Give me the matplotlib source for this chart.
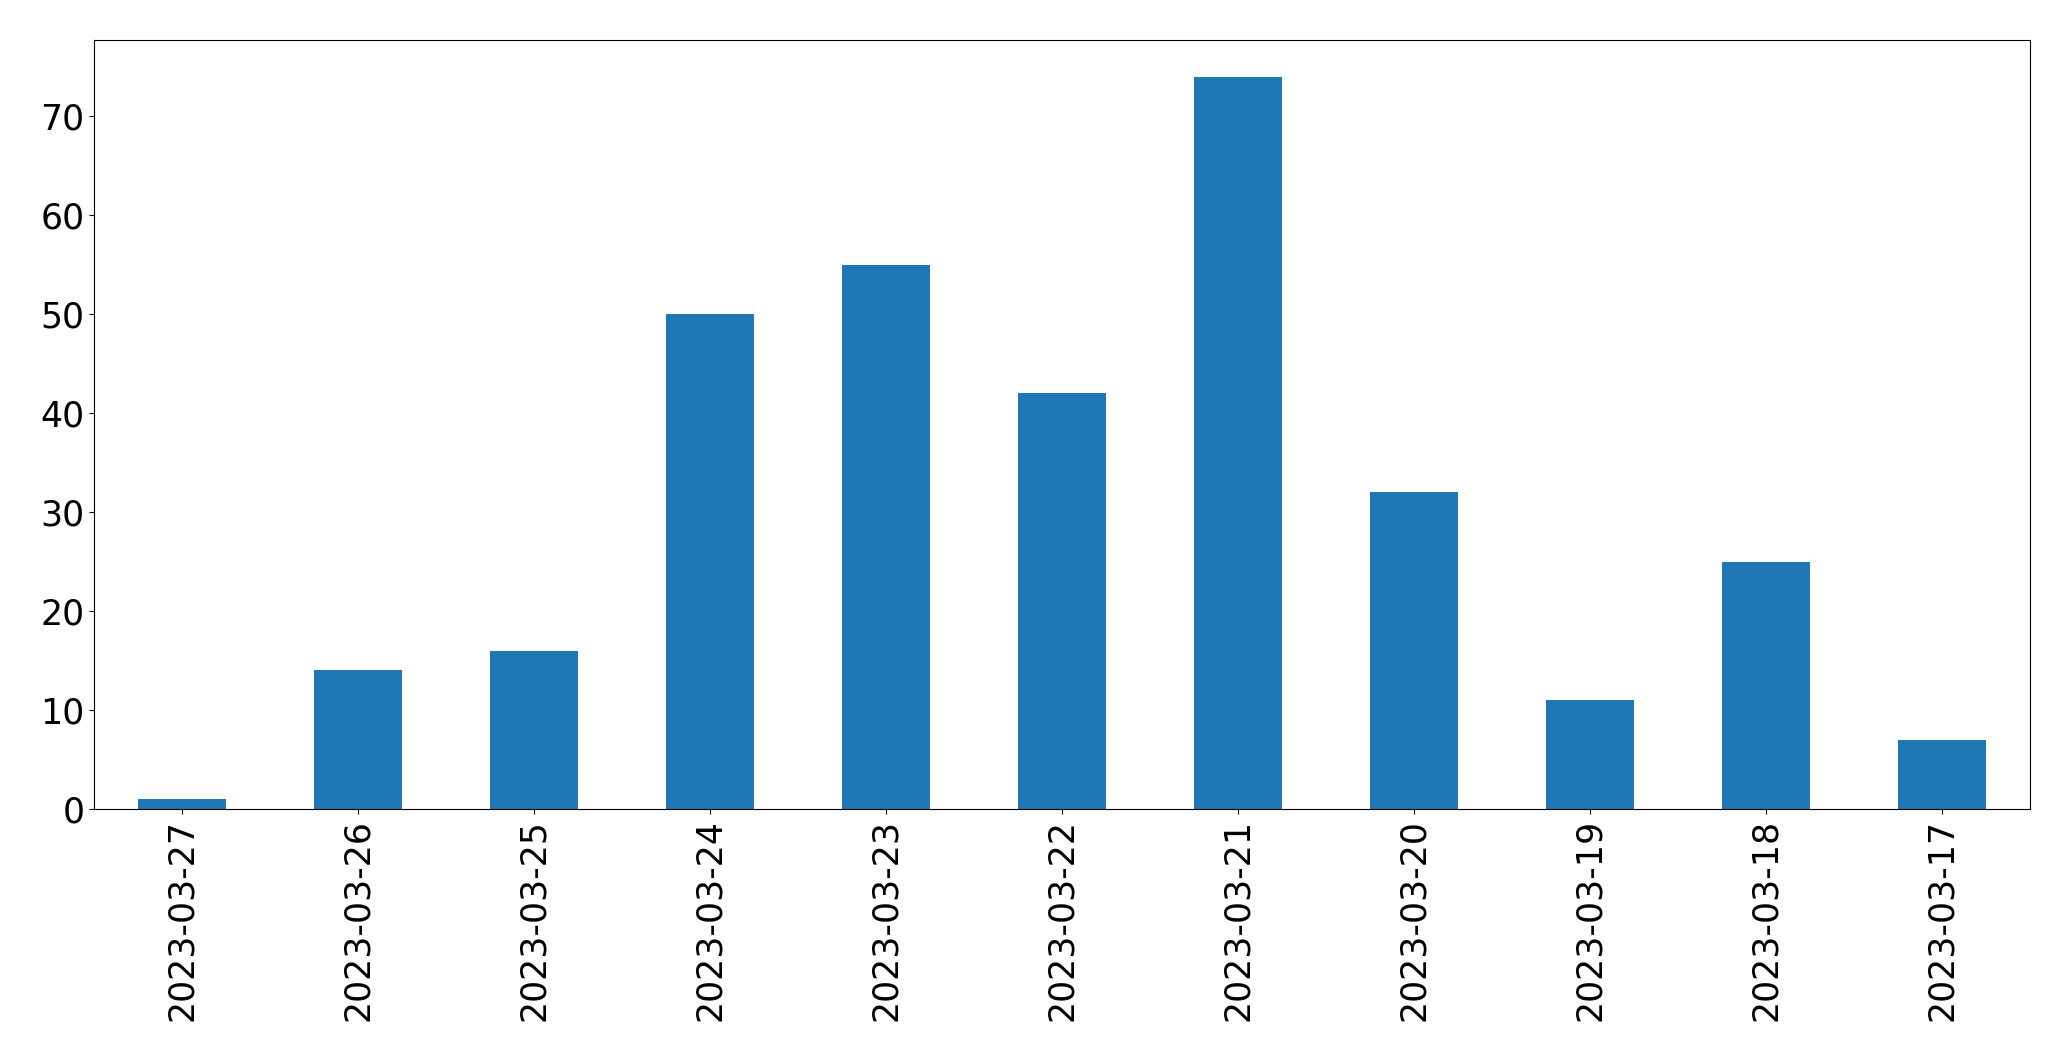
import matplotlib
matplotlib.use("Agg")
import matplotlib.pyplot as plt
import numpy as np

dates = ["2023-03-27", "2023-03-26", "2023-03-25", "2023-03-24", "2023-03-23",
         "2023-03-22", "2023-03-21", "2023-03-20", "2023-03-19", "2023-03-18",
         "2023-03-17"]
counts = [1, 14, 16, 50, 55, 42, 74, 32, 11, 25, 7]

fig = plt.figure(figsize=(20.71, 10.61), dpi=100)
ax = fig.add_axes([0.0454, 0.2375, 0.9348, 0.7247])
x = np.arange(len(dates))
ax.bar(x, counts, width=0.5, color="#1f77b4")
ax.set_xlim(-0.5, len(dates) - 0.5)
ax.set_ylim(0, max(counts) * 1.05)
ax.set_xticks(x)
ax.set_xticklabels(dates, rotation=90)
ax.tick_params(labelsize=25)
fig.savefig("out.png", dpi=100)
